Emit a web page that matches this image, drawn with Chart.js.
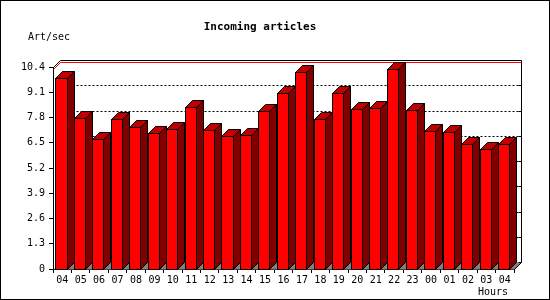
<!DOCTYPE html>
<html>
<head>
<meta charset="utf-8">
<script src="https://cdn.jsdelivr.net/npm/chart.js@4"></script>
<style>
  html, body { margin: 0; padding: 0; background: #fff; }
  #wrap { width: 550px; height: 300px; }
</style>
</head>
<body>
<div id="wrap"><canvas id="myChart" width="550" height="300"></canvas></div>
<script>
const ctx = document.getElementById('myChart');

const hours = ['04', '05', '06', '07', '08', '09', '10', '11', '12', '13', '14', '15',
    '16', '17', '18', '19', '20', '21', '22', '23', '00', '01', '02', '03', '04'];
const artPerSec = [9.82, 7.76, 6.68, 7.71, 7.30, 6.99, 7.19, 8.33, 7.14, 6.83, 6.88, 8.12,
    9.05, 10.13, 7.71, 9.05, 8.22, 8.27, 10.28, 8.17, 7.09, 7.04, 6.42, 6.16, 6.42];
const yTicks = [0, 1.3, 2.6, 3.9, 5.2, 6.5, 7.8, 9.1, 10.4];
const yTickLabels = ['0', '1.3', '2.6', '3.9', '5.2', '6.5', '7.8', '9.1', '10.4'];

const chartTitle = 'Incoming articles';
const yTitle = 'Art/sec';
const xTitle = 'Hours';

const depth = 7;
const mono = "'DejaVu Sans Mono', 'Liberation Mono', monospace";

function px(v) { return Math.round(v) + 0.5; }

// back wall, grid, floor and the 3d bars
const bars3d = {
    id: 'bars3d',
    beforeDatasetsDraw(chart) {
        const c = chart.ctx;
        const a = chart.chartArea;
        const y = chart.scales.y;
        const L = px(a.left), R = px(a.right), B = px(a.bottom), T = px(a.top);
        c.save();
        c.lineWidth = 1;

        // floor
        c.fillStyle = '#808080';
        c.beginPath();
        c.moveTo(L, B);
        c.lineTo(R, B);
        c.lineTo(R + depth, B - depth);
        c.lineTo(L + depth, B - depth);
        c.closePath();
        c.fill();

        // dotted grid on back wall
        c.strokeStyle = '#000';
        c.setLineDash([2, 2]);
        yTicks.forEach((v, i) => {
            if (i === 0 || i === yTicks.length - 1) return;
            const yy = px(y.getPixelForValue(v)) - depth;
            c.beginPath();
            c.moveTo(L + depth, yy);
            c.lineTo(R + depth, yy);
            c.stroke();
        });
        c.setLineDash([]);

        // small ticks on back right edge
        yTicks.forEach(v => {
            const yy = px(y.getPixelForValue(v)) - depth;
            c.beginPath();
            c.moveTo(R + depth - 3, yy);
            c.lineTo(R + depth, yy);
            c.stroke();
        });

        // frame
        c.beginPath();
        c.moveTo(L, T);
        c.lineTo(L + depth, T - depth);
        c.lineTo(R + depth, T - depth);
        c.lineTo(R + depth, B - depth);
        c.lineTo(R, B);
        c.stroke();

        // red max line
        const ym = px(y.getPixelForValue(Math.max(...artPerSec)));
        c.strokeStyle = '#ff0000';
        c.beginPath();
        c.moveTo(L, ym);
        c.lineTo(L + depth, ym - depth);
        c.lineTo(R + depth, ym - depth);
        c.stroke();
        c.restore();
    },
    afterDatasetsDraw(chart) {
        const c = chart.ctx;
        const meta = chart.getDatasetMeta(0);
        c.save();
        c.lineWidth = 1;
        c.strokeStyle = '#000';
        meta.data.forEach(el => {
            const fl = px(el.x - el.width / 2 - 1.2);
            const fr = px(el.x + el.width / 2 - 1.2);
            const top = px(el.y);
            const base = px(el.base);

            // side
            c.fillStyle = '#800000';
            c.beginPath();
            c.moveTo(fr, top);
            c.lineTo(fr + depth, top - depth);
            c.lineTo(fr + depth, base - depth);
            c.lineTo(fr, base);
            c.closePath();
            c.fill();
            c.stroke();

            // top
            c.fillStyle = '#c00000';
            c.beginPath();
            c.moveTo(fl, top);
            c.lineTo(fl + depth, top - depth);
            c.lineTo(fr + depth, top - depth);
            c.lineTo(fr, top);
            c.closePath();
            c.fill();
            c.stroke();

            // front
            c.fillStyle = '#ff0000';
            c.fillRect(fl, top, fr - fl, base - top);
            c.strokeRect(fl, top, fr - fl, base - top);
        });
        c.restore();
    },
    afterDraw(chart) {
        const c = chart.ctx;
        c.save();
        c.fillStyle = '#000';
        c.font = 'bold 11px ' + mono;
        c.textAlign = 'center';
        c.textBaseline = 'middle';
        c.fillText(chartTitle, 260, 27);

        c.font = '10px ' + mono;
        c.textAlign = 'left';
        c.fillText(yTitle, 28, 37);
        c.textAlign = 'right';
        c.fillText(xTitle, 508, 292);

        c.strokeStyle = '#000';
        c.lineWidth = 1;
        c.strokeRect(0.5, 0.5, chart.width - 1, chart.height - 1);
        c.restore();
    }
};

Chart.defaults.font.family = mono;
Chart.defaults.color = '#000';

new Chart(ctx, {
    type: 'bar',
    data: {
        labels: hours,
        datasets: [{
            label: yTitle,
            data: artPerSec,
            backgroundColor: 'rgba(0,0,0,0)',
            borderWidth: 0,
            categoryPercentage: 1,
            barPercentage: 0.6
        }]
    },
    options: {
        responsive: false,
        animation: false,
        devicePixelRatio: 1,
        layout: { padding: { top: 67, right: 36, left: 0, bottom: 0 } },
        plugins: {
            legend: { display: false },
            title: { display: false },
            tooltip: { enabled: false }
        },
        scales: {
            x: {
                grid: { offset: true, drawOnChartArea: false, drawTicks: true, tickLength: 4, color: '#000' },
                border: { color: '#000', width: 1 },
                ticks: { font: { size: 10 }, padding: 1, maxRotation: 0, autoSkip: false },
                afterFit(s) { s.height = 31; }
            },
            y: {
                min: 0,
                max: 10.4,
                afterBuildTicks(s) { s.ticks = yTicks.map(v => ({ value: v })); },
                grid: { drawOnChartArea: false, drawTicks: true, tickLength: 4, color: '#000' },
                border: { color: '#000', width: 1 },
                ticks: {
                    font: { size: 10 },
                    padding: 4,
                    callback: (v, i) => yTickLabels[i]
                },
                afterFit(s) { s.width = 53; }
            }
        }
    },
    plugins: [bars3d]
});
</script>
</body>
</html>
